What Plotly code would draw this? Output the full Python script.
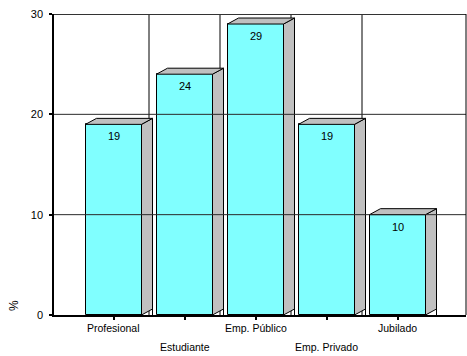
import plotly.graph_objects as go

# Occupation groups and their share (%)
categories = ["Profesional", "Estudiante", "Emp. Público", "Emp. Privado", "Jubilado"]
values = [19, 24, 29, 19, 10]
y_ticks = [0, 10, 20, 30]

FONT = "Liberation Sans, Arial, sans-serif"
FRONT = "#80FFFF"
SIDE = "#C0C0C0"

W, H = 467, 356
ML, MR, MT, MB = 54, 1, 14, 41
plot_w = W - ML - MR
plot_h = H - MT - MB

# horizontal scale: pixels per category
px_per_cat = 71.0
first_center_px = 113.5 - ML
x_lo = -first_center_px / px_per_cat
x_hi = x_lo + plot_w / px_per_cat
y_lo, y_hi = 0, 30
px_per_unit = plot_h / (y_hi - y_lo)

bar_w = 56 / px_per_cat
depth_x = 11 / px_per_cat
depth_y = 6 / px_per_unit

xs = list(range(len(categories)))

fig = go.Figure()
fig.add_trace(go.Bar(
    x=xs, y=values, width=bar_w,
    marker=dict(color=FRONT, line=dict(color="black", width=1)),
    hoverinfo="skip", showlegend=False,
))

shapes = []
# back-wall vertical gridlines between categories
for i in range(len(categories) - 1):
    shapes.append(dict(type="line", xref="x", yref="y", layer="below",
                       x0=i + 0.5, x1=i + 0.5, y0=y_lo, y1=y_hi,
                       line=dict(color="black", width=1)))

# side and top faces of each bar
for i, v in zip(xs, values):
    x0 = i - bar_w / 2
    x1 = i + bar_w / 2
    side = (f"M {x1},0 L {x1 + depth_x},{depth_y} "
            f"L {x1 + depth_x},{v + depth_y} L {x1},{v} Z")
    top = (f"M {x0},{v} L {x0 + depth_x},{v + depth_y} "
           f"L {x1 + depth_x},{v + depth_y} L {x1},{v} Z")
    for p in (side, top):
        shapes.append(dict(type="path", path=p, xref="x", yref="y", layer="above",
                           fillcolor=SIDE, line=dict(color="black", width=1)))
    shapes.append(dict(type="line", xref="x", yref="y", layer="above",
                       x0=x1 + depth_x, x1=x1 + depth_x, y0=0, y1=depth_y,
                       line=dict(color="black", width=1)))

# horizontal gridlines drawn over the bars
for t in y_ticks[1:-1]:
    shapes.append(dict(type="line", xref="paper", yref="y", layer="above",
                       x0=0, x1=1, y0=t, y1=t,
                       line=dict(color="#2a2a2a", width=1)))
# top border and right edge
shapes.append(dict(type="line", xref="paper", yref="y", layer="above",
                   x0=0, x1=1, y0=y_hi, y1=y_hi,
                   line=dict(color="#333333", width=2)))
shapes.append(dict(type="line", xref="paper", yref="paper", layer="above",
                   x0=1, x1=1, y0=0, y1=1,
                   line=dict(color="black", width=1)))

annotations = []
# value labels inside the top of each bar
for i, v in zip(xs, values):
    annotations.append(dict(x=i, y=v, xref="x", yref="y", text=f"{v:.0f}",
                            showarrow=False, yanchor="middle", yshift=-12,
                            font=dict(family=FONT, size=11, color="black")))
# staggered category labels
for i, c in zip(xs, categories):
    annotations.append(dict(x=i, y=0, xref="x", yref="paper", text=c,
                            showarrow=False, yanchor="middle",
                            yshift=-13 if i % 2 == 0 else -32,
                            font=dict(family=FONT, size=10.5, color="black")))
# axis unit
annotations.append(dict(x=0, y=0, xref="paper", yref="paper", text="%",
                        showarrow=False, textangle=-90,
                        xanchor="center", yanchor="middle",
                        xshift=-40, yshift=9,
                        font=dict(family=FONT, size=12, color="black")))

fig.update_layout(
    width=W, height=H,
    margin=dict(l=ML, r=MR, t=MT, b=MB),
    paper_bgcolor="white", plot_bgcolor="white",
    font=dict(family=FONT, size=11, color="black"),
    shapes=shapes, annotations=annotations,
    xaxis=dict(range=[x_lo, x_hi], tickvals=xs, showticklabels=False,
               ticks="outside", ticklen=3, tickwidth=2, tickcolor="black",
               showgrid=False, zeroline=False,
               showline=True, linecolor="black", linewidth=1.5),
    yaxis=dict(range=[y_lo, y_hi], tickvals=y_ticks,
               ticks="outside", ticklen=3, tickwidth=2, tickcolor="black",
               ticklabelstandoff=4,
               tickfont=dict(family=FONT, size=11, color="black"),
               showgrid=False, zeroline=False,
               showline=True, linecolor="black", linewidth=1.5),
    bargap=0,
)

fig.write_html("out.html")
